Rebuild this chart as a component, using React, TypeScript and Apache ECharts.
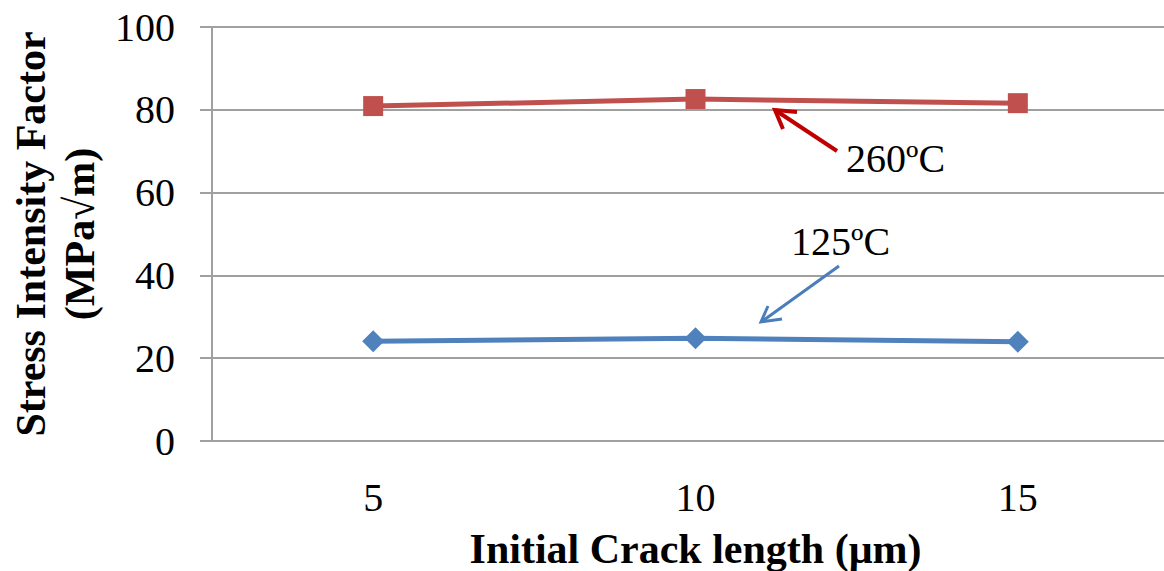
import React, { useEffect, useRef } from "react";
import * as echarts from "echarts";

const categories = ["5", "10", "15"];
const series260 = [80.9, 82.6, 81.6];
const series125 = [24.1, 24.8, 24.0];
const yMin = 0;
const yMax = 100;
const yInterval = 20;

const SERIF = "'Times New Roman', 'Liberation Serif', serif";

export default function App() {
  const ref = useRef<HTMLDivElement>(null);
  useEffect(() => {
    if (!ref.current) return;
    const chart = echarts.init(ref.current, undefined, { renderer: "svg" });
    const gray = "#a0a0a0";
    chart.setOption({
      animation: false,
      backgroundColor: "#ffffff",
      grid: {
        left: 212,
        right: -15,
        top: 27,
        bottom: 130,
        containLabel: false,
        outerBoundsMode: "none",
      },
      xAxis: {
        type: "category",
        data: categories,
        boundaryGap: true,
        axisLine: { lineStyle: { color: gray, width: 2 } },
        axisTick: { show: false },
        axisLabel: {
          margin: 36,
          color: "#000",
          fontFamily: SERIF,
          fontSize: 40,
          lineHeight: 40,
        },
        name: "Initial Crack length (\u03bcm)",
        nameLocation: "middle",
        nameGap: 87,
        nameTextStyle: {
          color: "#000",
          fontFamily: SERIF,
          fontWeight: "bold",
          fontSize: 42,
          lineHeight: 42,
        },
      },
      yAxis: {
        type: "value",
        min: yMin,
        max: yMax,
        interval: yInterval,
        axisLine: { show: true, lineStyle: { color: gray, width: 2 } },
        axisTick: { show: true, inside: false, length: 12, lineStyle: { color: gray, width: 2 } },
        splitLine: { show: true, lineStyle: { color: gray, width: 2 } },
        axisLabel: {
          margin: 37,
          color: "#000",
          fontFamily: SERIF,
          fontSize: 40,
        },
        name: "Stress Intensity Factor\n(MPa\u221am)",
        nameLocation: "middle",
        nameGap: 106,
        nameRotate: 90,
        nameTextStyle: {
          color: "#000",
          fontFamily: SERIF,
          fontWeight: "bold",
          fontSize: 42,
          lineHeight: 49,
        },
      },
      series: [
        {
          name: "260\u00baC",
          type: "line",
          data: series260,
          symbol: "rect",
          symbolSize: 20,
          lineStyle: { color: "#c0504d", width: 5 },
          itemStyle: { color: "#c0504d" },
          z: 3,
        },
        {
          name: "125\u00baC",
          type: "line",
          data: series125,
          symbol: "diamond",
          symbolSize: 22,
          lineStyle: { color: "#4f81bd", width: 5 },
          itemStyle: { color: "#4f81bd" },
          z: 3,
        },
      ],
      graphic: [
        {
          type: "polyline",
          shape: { points: [[837, 151], [775, 110]] },
          style: { stroke: "#c00000", lineWidth: 4, fill: null },
          z: 10,
        },
        {
          type: "polyline",
          shape: { points: [[797, 112], [775, 110], [783, 129]] },
          style: { stroke: "#c00000", lineWidth: 4, fill: null, lineJoin: "miter" },
          z: 10,
        },
        {
          type: "text",
          x: 846,
          y: 158,
          style: {
            text: "260\u00baC",
            fill: "#000",
            font: "40px " + SERIF,
            verticalAlign: "middle",
            align: "left",
          },
          z: 10,
        },
        {
          type: "polyline",
          shape: { points: [[839, 266], [761, 322]] },
          style: { stroke: "#4a7ebb", lineWidth: 3, fill: null },
          z: 10,
        },
        {
          type: "polyline",
          shape: { points: [[782, 319], [761, 322], [768, 306]] },
          style: { stroke: "#4a7ebb", lineWidth: 3, fill: null, lineJoin: "miter" },
          z: 10,
        },
        {
          type: "text",
          x: 791,
          y: 241,
          style: {
            text: "125\u00baC",
            fill: "#000",
            font: "40px " + SERIF,
            verticalAlign: "middle",
            align: "left",
          },
          z: 10,
        },
      ],
    });
    return () => chart.dispose();
  }, []);
  return (
    <div
      ref={ref}
      style={{ position: "fixed", left: 0, top: 0, width: 1164, height: 571 }}
    />
  );
}
